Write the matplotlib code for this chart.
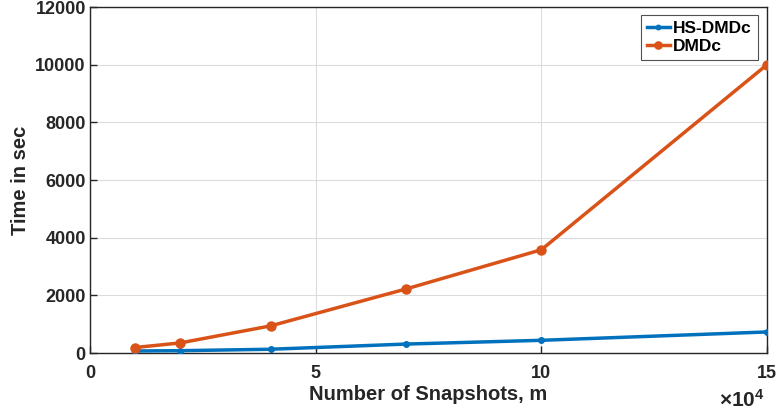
import matplotlib
matplotlib.use("Agg")
import matplotlib.pyplot as plt

plt.rcParams['font.family'] = ['Liberation Sans', 'DejaVu Sans']
plt.rcParams['font.weight'] = 'bold'
plt.rcParams['mathtext.fontset'] = 'custom'
plt.rcParams['mathtext.rm'] = 'Liberation Sans'
plt.rcParams['mathtext.bf'] = 'Liberation Sans:bold'

snapshots = [1, 2, 4, 7, 10, 15]  # x 10^4
hs_dmdc = [70, 80, 130, 310, 440, 730]
dmdc = [190, 350, 940, 2220, 3580, 10000]
xticks = [0, 5, 10, 15]
yticks = [0, 2000, 4000, 6000, 8000, 10000, 12000]

fig = plt.figure(figsize=(7.77, 4.17), dpi=100)
ax = fig.add_axes([90/777, 64/417, 677/777, 346/417])

ax.plot(snapshots, hs_dmdc, '-o', color='#0072BD', lw=2.5, ms=4, label='HS-DMDc', zorder=3)
ax.plot(snapshots, dmdc, '-o', color='#D95319', lw=2.5, ms=6.5, label='DMDc', zorder=3)

ax.set_xlim(0, 15)
ax.set_ylim(0, 12000)
ax.set_xticks(xticks)
ax.set_yticks(yticks)
ax.grid(True, color='#DCDCDC', lw=0.8)
ax.set_axisbelow(True)
ax.tick_params(direction='in', length=5, width=1, labelsize=13, color='#262626',
               labelcolor='#262626', pad=3)
ax.tick_params(axis='x', pad=8.5)
for lab in ax.get_xticklabels() + ax.get_yticklabels():
    lab.set_fontweight('bold')
for s in ax.spines.values():
    s.set_color('#262626')
    s.set_linewidth(1)

ax.set_xlabel('Number of Snapshots, m', fontsize=14.5, fontweight='bold', color='#262626', labelpad=2)
ax.set_ylabel('Time in sec', fontsize=14.5, fontweight='bold', color='#262626', labelpad=4)
fig.text(765/777, 1 - 400/417, r'$\times\mathbf{10^{4}}$', ha='right', va='center',
         fontsize=15, color='#262626')

leg = ax.legend(loc='upper right', frameon=True, fancybox=False,
                edgecolor='#262626', bbox_to_anchor=(1 - 9/677, 1 - 8/346),
                borderaxespad=0, handlelength=1.3, handletextpad=0.2,
                borderpad=0.35, labelspacing=0.15, markerscale=0.8,
                prop={'weight': 'bold', 'size': 12.5})
leg.get_frame().set_linewidth(0.8)

fig.savefig('out.png', dpi=100)
